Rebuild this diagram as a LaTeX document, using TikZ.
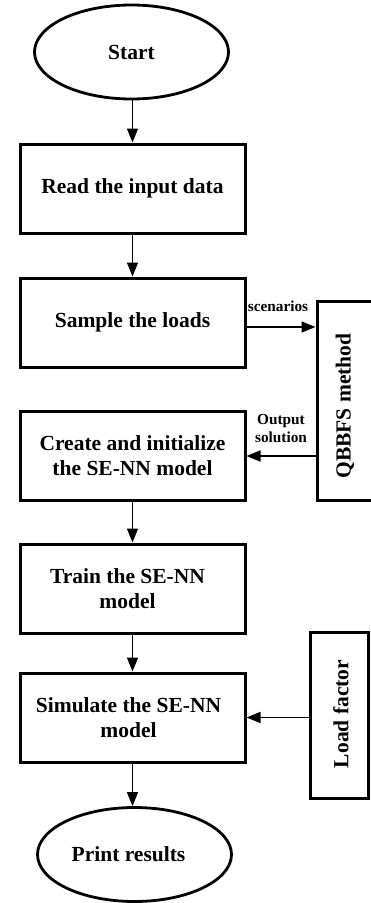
\documentclass[tikz,border=0pt]{standalone}
\usepackage{fontspec}
\setmainfont{Liberation Serif}
\usetikzlibrary{arrows.meta,shapes.geometric}
\tikzset{
  box/.style={draw,line width=3pt,rectangle,minimum width=225pt,minimum height=89pt,inner sep=0pt,align=center,font=\fontsize{21.5}{25}\selectfont\bfseries},
  oval/.style={draw,line width=2.8pt,ellipse,minimum width=194pt,minimum height=94pt,inner sep=0pt,align=center,font=\fontsize{21.5}{25}\selectfont\bfseries},
  side/.style={draw,line width=3pt,rectangle,inner sep=0pt},
  sidetext/.style={rotate=90,font=\fontsize{21.5}{25}\selectfont\bfseries,inner sep=0pt},
  lbl/.style={font=\fontsize{15.3}{18}\selectfont\bfseries,align=center,inner sep=0pt},
  arr/.style={line width=1.5pt,-{Triangle[length=14pt,width=11pt]}}
}
\begin{document}
\begin{tikzpicture}[x=1pt,y=-1pt]
\useasboundingbox (0,0) rectangle (370,903);
\node[oval] (start) at (131.5,52) {Start};
\node[box] (read) at (132.5,188.5) {Read the input data};
\node[box] (sample) at (132.5,322.5) {Sample the loads};
\node[box] (create) at (132.5,456) {Create and initialize\\the SE-NN model};
\node[box] (train) at (132.5,588.5) {Train the SE-NN\hspace*{10pt}\\model\hspace*{10pt}};
\node[box] (sim) at (132.5,717.5) {Simulate the SE-NN\hspace*{8pt}\\model\hspace*{8pt}};
\node[oval] (print) at (134.5,854.5) {Print results\hspace*{12pt}};
\node[side,minimum width=66pt,minimum height=199pt] (qbbfs) at (350,401) {};
\node[sidetext] (qtext) at (345,406) {QBBFS method};
\node[side,minimum width=58pt,minimum height=166pt] (lf) at (339,715) {};
\node[sidetext] (ltext) at (341,714) {Load factor};
\node[lbl] (scen) at (278,306) {scenarios};
\node[lbl] (outsol) at (281,429) {Output\\solution};
\draw[arr] (start.south -| read.north) -- (read.north);
\draw[arr] (read) -- (sample);
\draw[arr] ([yshift=-4.5pt]sample.east) -- ([yshift=-4.5pt]sample.east -| qbbfs.west);
\draw[arr] (qbbfs.west |- create.east) -- (create.east);
\draw[arr] (create) -- (train);
\draw[arr] (train) -- (sim);
\draw[arr] (lf.west |- sim.east) -- (sim.east);
\draw[arr] (sim.south) -- (sim.south |- print.north);
\end{tikzpicture}
\end{document}
